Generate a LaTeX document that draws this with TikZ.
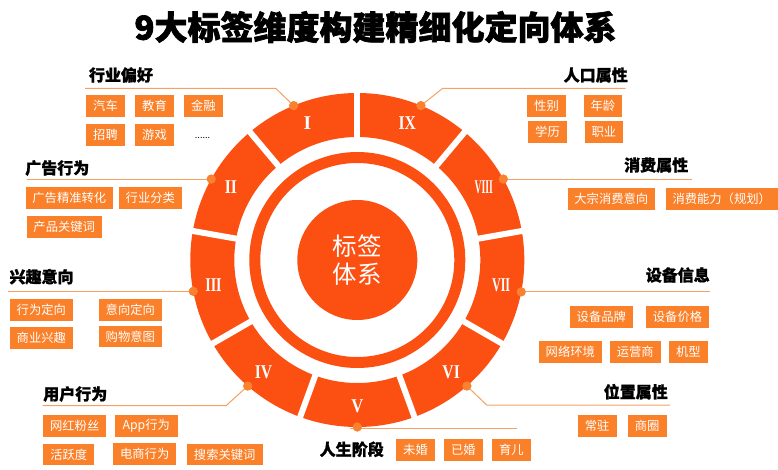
\documentclass[tikz,border=0pt]{standalone}
\usepackage{fontspec}
\setmainfont{Noto Sans CJK SC}
\newfontfamily\romfont{Liberation Serif}
\usetikzlibrary{calc}
\definecolor{ringc}{RGB}{252,80,18}
\definecolor{tagc}{RGB}{250,128,42}
\definecolor{dotc}{RGB}{248,130,48}
\definecolor{linec}{RGB}{246,160,100}
\tikzset{
  tagbox/.style={fill=tagc,text=white,font=\fontsize{12.3}{14}\selectfont,minimum height=21.5pt,inner sep=0pt},
  headtxt/.style={text=black,font=\fontsize{16}{18}\selectfont\bfseries\addfontfeature{FakeBold=1.2},inner sep=0pt},
  numtxt/.style={text=white,font=\romfont\fontsize{19.5}{21}\selectfont\bfseries,inner sep=0pt},
  dotnode/.style={circle,fill=dotc,minimum size=9pt,inner sep=0pt},
  leader/.style={draw=linec,line width=1pt}
}
\begin{document}
\begin{tikzpicture}[x=1pt,y=-1pt]
\useasboundingbox (0,0) rectangle (778,470);
\coordinate (O) at (357.3,260);
% title
\node[font=\fontsize{33}{36}\selectfont\bfseries\addfontfeature{FakeBold=2},inner sep=0pt] (title) at (375.5,27) {9大标签维度构建精细化定向体系};
% outer ring
\fill[ringc,even odd rule] (O) circle[radius=167pt] (O) circle[radius=123pt];
\foreach \a in {90,130,...,410} \draw[white,line width=6pt] ($(O)+(\a:116pt)$) -- ($(O)+(\a:174pt)$);
% thin ring and disc
\fill[ringc,even odd rule] (O) circle[radius=108pt] (O) circle[radius=97pt];
\fill[ringc] (O) circle[radius=60pt];
\node[text=white,font=\fontsize{24.5}{28.5}\selectfont,align=center,inner sep=0pt] (center) at (O) {标签\\体系};
% numerals
\node[numtxt] (n1) at ($(O)+(110:146pt)$) {I};
\node[numtxt] (n2) at ($(O)+(150:146pt)$) {\scalebox{0.8}[1]{II}};
\node[numtxt] (n3) at ($(O)+(190:146pt)$) {\scalebox{0.72}[1]{III}};
\node[numtxt] (n4) at ($(O)+(230:146pt)$) {\scalebox{0.8}[1]{IV}};
\node[numtxt] (n5) at ($(O)+(270:146pt)$) {\scalebox{0.85}[1]{V}};
\node[numtxt] (n6) at ($(O)+(310:146pt)$) {\scalebox{0.8}[1]{VI}};
\node[numtxt] (n7) at ($(O)+(350:146pt)$) {\scalebox{0.62}[1]{VII}};
\node[numtxt] (n8) at ($(O)+(30:146pt)$) {\scalebox{0.5}[1]{VIII}};
\node[numtxt] (n9) at ($(O)+(70:146pt)$) {\scalebox{0.8}[1]{IX}};
% leader coordinates
\coordinate (c1a) at (275.7,88.3); \coordinate (c1b) at (85,88.3);
\coordinate (c9a) at (442.7,88.3); \coordinate (c9b) at (625.7,88.3);
\coordinate (c2) at (27,180.5);
\coordinate (c8) at (691.7,179.5);
\coordinate (c3) at (8,291.5);
\coordinate (c7) at (710,292);
\coordinate (c4a) at (226,405.7); \coordinate (c4b) at (42.7,405.7);
\coordinate (c6a) at (486.7,405); \coordinate (c6b) at (670,405);
\coordinate (c5a) at (350,428.5); \coordinate (c5b) at (516.7,428.5);
% dots
\node[dotnode] (d1) at ($(O)+(112.4:167pt)$) {};
\node[dotnode] (d2) at ($(O)+(151:167pt)$) {};
\node[dotnode] (d3) at ($(O)+(190.8:167pt)$) {};
\node[dotnode] (d4) at ($(O)+(229:167pt)$) {};
\node[dotnode] (d5) at ($(O)+(270:167pt)$) {};
\node[dotnode] (d6) at ($(O)+(311:167pt)$) {};
\node[dotnode] (d7) at ($(O)+(349:167pt)$) {};
\node[dotnode] (d8) at ($(O)+(29:167pt)$) {};
\node[dotnode] (d9) at ($(O)+(67.6:167pt)$) {};
% leaders
\draw[leader] (d1.center) -- (c1a) -- (c1b);
\draw[leader] (d9.center) -- (c9a) -- (c9b);
\draw[leader] (d2.center) -- (d2.center -| c2);
\draw[leader] (d8.center) -- (d8.center -| c8);
\draw[leader] (d3.center) -- (d3.center -| c3);
\draw[leader] (d7.center) -- (d7.center -| c7);
\draw[leader] (d4.center) -- (c4a) -- (c4b);
\draw[leader] (d6.center) -- (c6a) -- (c6b);
\draw[leader] (c5a) -- (c5b);
% redraw dots on top
\foreach \d in {d1,d2,d3,d4,d5,d6,d7,d8,d9} \fill[dotc] (\d) circle[radius=4.5pt];
% headings
\node[headtxt] (h1) at (121,75) {行业偏好};
\node[headtxt] (h2) at (57.3,168) {广告行为};
\node[headtxt] (h3) at (41.5,276.7) {兴趣意向};
\node[headtxt] (h4) at (75.3,394) {用户行为};
\node[headtxt] (h9) at (595.7,75) {人口属性};
\node[headtxt] (h8) at (656.2,165) {消费属性};
\node[headtxt] (h7) at (677.8,275) {设备信息};
\node[headtxt] (h6) at (635.8,391.7) {位置属性};
\node[headtxt] (h5) at (351.7,449.3) {人生阶段};
% tags group I
\node[tagbox,minimum width=39pt] (t11) at (105.5,105.8) {汽车};
\node[tagbox,minimum width=39pt] (t12) at (154.5,105.8) {教育};
\node[tagbox,minimum width=38.7pt] (t13) at (203.3,105.8) {金融};
\node[tagbox,minimum width=39pt] (t14) at (105.5,134.8) {招聘};
\node[tagbox,minimum width=39pt] (t15) at (154.5,134.8) {游戏};
\node[font=\fontsize{9}{10}\selectfont,inner sep=0pt] (t16) at (202.5,138) {......};
% group II
\node[tagbox,minimum width=86.7pt] (t21) at (69.3,197.8) {广告精准转化};
\node[tagbox,minimum width=62.7pt] (t22) at (150.3,197.8) {行业分类};
\node[tagbox,minimum width=75pt] (t23) at (64.2,226.8) {产品关键词};
% group III
\node[tagbox,minimum width=62.7pt] (t31) at (41.3,310) {行为定向};
\node[tagbox,minimum width=62.7pt] (t32) at (130.3,310) {意向定向};
\node[tagbox,minimum width=62.7pt] (t33) at (41.3,337.8) {商业兴趣};
\node[tagbox,minimum width=62.7pt] (t34) at (130.3,336.7) {购物意图};
% group IV
\node[tagbox,minimum width=62.7pt] (t41) at (74.7,425.8) {网红粉丝};
\node[tagbox,minimum width=62.7pt] (t42) at (146.3,425.8) {App行为};
\node[tagbox,minimum width=51pt] (t43) at (68.8,454.5) {活跃度};
\node[tagbox,minimum width=62.7pt] (t44) at (144.7,454.2) {电商行为};
\node[tagbox,minimum width=76pt] (t45) at (224.7,454.5) {搜索关键词};
% group IX
\node[tagbox,minimum width=38.4pt] (t91) at (546.5,105.8) {性别};
\node[tagbox,minimum width=37.7pt] (t92) at (602.8,105.8) {年龄};
\node[tagbox,minimum width=38.4pt] (t93) at (547.5,131.8) {学历};
\node[tagbox,minimum width=37.7pt] (t94) at (603.8,131.8) {职业};
% group VIII
\node[tagbox,minimum width=87.3pt] (t81) at (611.3,198.8) {大宗消费意向};
\node[tagbox,minimum width=112pt] (t82) at (721.7,198.8) {消费能力（规划）};
% group VII
\node[tagbox,minimum width=62.7pt] (t71) at (601.3,316.8) {设备品牌};
\node[tagbox,minimum width=63pt] (t72) at (677.5,316.8) {设备价格};
\node[tagbox,minimum width=62.7pt] (t73) at (570.3,351.8) {网络环境};
\node[tagbox,minimum width=50.7pt] (t74) at (635.3,351.8) {运营商};
\node[tagbox,minimum width=38.7pt] (t75) at (688.3,351.8) {机型};
% group VI
\node[tagbox,minimum width=39pt] (t61) at (597.2,425.8) {常驻};
\node[tagbox,minimum width=39pt] (t62) at (647.2,425.8) {商圈};
% group V
\node[tagbox,minimum width=39pt] (t51) at (415.5,450.2) {未婚};
\node[tagbox,minimum width=38.7pt] (t52) at (463.3,450.2) {已婚};
\node[tagbox,minimum width=38.7pt] (t53) at (511.3,450.2) {育儿};
\end{tikzpicture}
\end{document}
